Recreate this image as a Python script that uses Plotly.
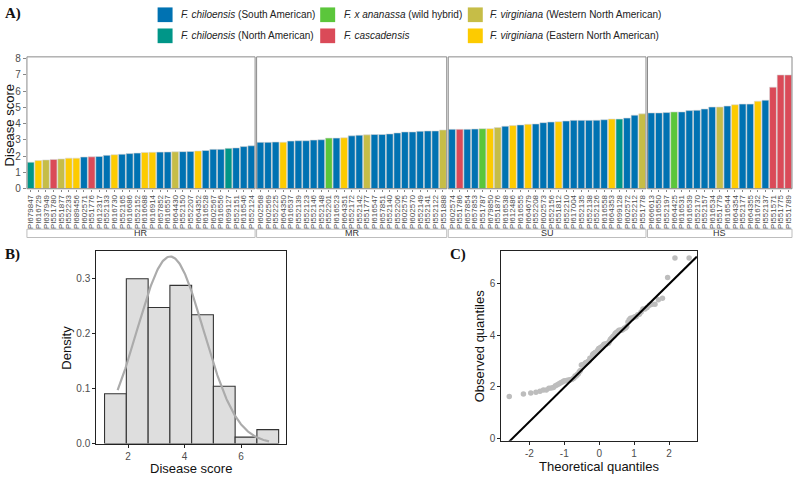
import plotly.graph_objects as go
import numpy as np
from statistics import NormalDist

W, H = 794, 478

# ---------------- DATA ----------------
hr_labels = ["PI679847", "PI616729", "PI637949", "PI551780", "PI551877", "PI552233", "PI689456",
             "PI602571", "PI551776", "PI612317", "PI552133", "PI616730", "PI552165", "PI616686",
             "PI552152", "PI616688", "PI616914", "PI657852", "PI616557", "PI664430", "PI552150",
             "PI552207", "PI664352", "PI616528", "PI602567", "PI616556", "PI699127", "PI552151",
             "PI616546", "PI552124"]
hr_scores = [1.63, 1.73, 1.77, 1.80, 1.83, 1.88, 1.88, 1.95, 1.96, 1.98, 2.05, 2.09, 2.12, 2.16,
             2.19, 2.23, 2.24, 2.25, 2.26, 2.27, 2.28, 2.29, 2.32, 2.35, 2.42, 2.42, 2.48, 2.51,
             2.59, 2.64]
hr_species = ["NA", "EV", "WV", "CA", "WV", "EV", "EV", "SA", "CA", "SA", "SA", "EV", "SA", "SA",
              "SA", "EV", "EV", "SA", "SA", "WV", "SA", "SA", "EV", "SA", "SA", "SA", "NA", "SA",
              "SA", "SA"]

mr_labels = ["PI602568", "PI602569", "PI552225", "PI664350", "PI616537", "PI552139", "PI552123",
             "PI552146", "PI552148", "PI552201", "PI616523", "PI664351", "PI552172", "PI552142",
             "PI551777", "PI616547", "PI657851", "PI552140", "PI552206", "PI602575", "PI602570",
             "PI552149", "PI552141", "PI552122", "PI551888"]
mr_scores = [2.85, 2.85, 2.87, 2.86, 2.93, 2.95, 2.95, 2.99, 3.01, 3.11, 3.11, 3.13, 3.25, 3.29,
             3.31, 3.33, 3.33, 3.37, 3.43, 3.49, 3.49, 3.53, 3.55, 3.55, 3.61]
mr_species = ["SA", "SA", "SA", "EV", "SA", "SA", "SA", "SA", "SA", "HY", "SA", "EV", "SA", "SA",
              "WV", "SA", "SA", "SA", "SA", "SA", "SA", "SA", "SA", "SA", "WV"]

su_labels = ["PI602574", "PI551786", "PI657854", "PI657853", "PI551787", "PI679850", "PI551876",
             "PI616538", "PI612486", "PI616555", "PI664679", "PI552208", "PI602573", "PI552156",
             "PI551812", "PI552210", "PI617004", "PI552135", "PI552138", "PI552126", "PI616558",
             "PI664353", "PI699128", "PI602572", "PI552212", "PI551778"]
su_scores = [3.65, 3.65, 3.65, 3.67, 3.69, 3.69, 3.76, 3.84, 3.88, 3.92, 3.96, 3.98, 4.06, 4.10,
             4.12, 4.16, 4.20, 4.20, 4.20, 4.21, 4.24, 4.28, 4.28, 4.34, 4.52, 4.60]
su_species = ["SA", "CA", "SA", "SA", "HY", "EV", "WV", "SA", "EV", "SA", "EV", "SA", "SA", "SA",
              "EV", "SA", "SA", "SA", "SA", "SA", "SA", "EV", "NA", "SA", "SA", "WV"]

hs_labels = ["PI666613", "PI616550", "PI552197", "PI664425", "PI616531", "PI616539", "PI552170",
             "PI552157", "PI616534", "PI551779", "PI616544", "PI664354", "PI552177", "PI664355",
             "PI616732", "PI552137", "PI551571", "PI551775", "PI551789"]
hs_scores = [4.66, 4.66, 4.68, 4.72, 4.72, 4.80, 4.82, 4.90, 5.02, 5.02, 5.08, 5.16, 5.20, 5.20,
             5.38, 5.44, 6.24, 6.99, 6.99]
hs_species = ["SA", "SA", "SA", "HY", "SA", "SA", "SA", "SA", "SA", "WV", "SA", "EV", "SA", "SA",
              "EV", "SA", "CA", "CA", "CA"]

group_names = ["HR", "MR", "SU", "HS"]

species_order = ["SA", "NA", "HY", "CA", "WV", "EV"]
species_text = {
    "SA": "<i>F. chiloensis</i> (South American)",
    "NA": "<i>F. chiloensis</i> (North American)",
    "HY": "<i>F. x ananassa</i> (wild hybrid)",
    "CA": "<i>F. cascadensis</i>",
    "WV": "<i>F. virginiana</i> (Western North American)",
    "EV": "<i>F. virginiana</i> (Eastern North American)",
}

# histogram
hist_edges = [1.166, 1.938, 2.710, 3.480, 4.250, 5.020, 5.790, 6.560, 7.330]
hist_density = [0.0905, 0.2988, 0.2467, 0.2870, 0.2337, 0.1040, 0.0118, 0.0254]

# ---------------- STYLES ----------------
species_color = {"SA": "#0072B2", "NA": "#009688", "HY": "#5BC63B", "CA": "#DA4A58",
                 "WV": "#C6BD47", "EV": "#FDCB00"}
FONT = "Liberation Sans, Arial, sans-serif"
SERIF = "Liberation Serif, Times New Roman, serif"
TICKC = "#4d4d4d"


def px(x):
    return x / W


def py(y):
    return 1 - y / H


def label(x, y, text, size=13, angle=0, xanchor="center", color="#111", family=FONT):
    return dict(x=px(x), y=py(y), xref="paper", yref="paper", text=text, textangle=angle,
                showarrow=False, xanchor=xanchor, yanchor="middle",
                font=dict(size=size, color=color, family=family))


fig = go.Figure()
shapes = []
ann = []

groups = [(hr_labels, hr_scores, hr_species), (mr_labels, mr_scores, mr_species),
          (su_labels, su_scores, su_species), (hs_labels, hs_scores, hs_species)]

# facet layout (pixel geometry)
left, right, gap = 26.0, 793.0, 1.5
total = sum(len(g[0]) for g in groups)
unit = (right - left - gap * (len(groups) - 1)) / total
A_top, A_bot = 54.0, 188.7
strip_top, strip_bot = 230.0, 238.5

x0 = left
for i, (labs, sc, sp) in enumerate(groups):
    n = len(labs)
    x1 = x0 + n * unit
    ax = "x" if i == 0 else f"x{i + 1}"
    key = "xaxis" if i == 0 else f"xaxis{i + 1}"
    fig.add_trace(go.Bar(
        x=labs, y=sc, xaxis=ax, yaxis="y",
        marker=dict(color=[species_color[s] for s in sp], line=dict(color="#d6d6d6", width=0.6)),
        showlegend=False, hoverinfo="x+y"))
    fig.layout[key] = dict(
        domain=[px(x0), px(x1)], anchor="y", type="category",
        range=[-0.5, n - 0.5], tickmode="array", tickvals=labs, ticktext=labs,
        tickangle=-90, tickfont=dict(size=8, color=TICKC, family=FONT),
        ticks="outside", ticklen=2, tickcolor="#888", showgrid=False,
        showline=False, zeroline=False, fixedrange=True)
    # panel frame
    shapes.append(dict(type="rect", xref="paper", yref="paper", x0=px(x0), x1=px(x1),
                       y0=py(A_bot), y1=py(A_top), line=dict(color="#8a8a8a", width=1),
                       layer="above"))
    # strip
    shapes.append(dict(type="rect", xref="paper", yref="paper", x0=px(x0), x1=px(x1),
                       y0=py(strip_bot), y1=py(strip_top), line=dict(color="#bdbdbd", width=1),
                       fillcolor="white"))
    ann.append(label((x0 + x1) / 2, (strip_top + strip_bot) / 2, group_names[i], size=9,
                     color="#333"))
    x0 = x1 + gap

fig.layout["yaxis"] = dict(domain=[py(A_bot), py(A_top)], range=[0, 8.1], anchor="x",
                           tickvals=list(range(0, 9)), ticks="outside", ticklen=3,
                           tickcolor="#888", tickfont=dict(size=10, color=TICKC, family=FONT),
                           showgrid=False, zeroline=False, showline=False, fixedrange=True)
ann.append(label(8, 124, "Disease score", angle=-90))

# legend (2 rows x 3 columns)
leg_cols = [(157, 178), (320, 342), (468, 488)]
leg_rows = [11, 32.5]
for k, s in enumerate(species_order):
    c, r = k // 2, k % 2
    sx, tx = leg_cols[c]
    yc = leg_rows[r]
    shapes.append(dict(type="rect", xref="paper", yref="paper", x0=px(sx), x1=px(sx + 15),
                       y0=py(yc + 7.5), y1=py(yc - 7.5), fillcolor=species_color[s],
                       line=dict(width=0)))
    ann.append(label(tx, yc, species_text[s], size=10, xanchor="left", color="#222"))

# ---------------- Panel B: histogram ----------------
B_l, B_r, B_t, B_b = 95.7, 285.7, 252.7, 449.0
edges = np.array(hist_edges)
centers = (edges[:-1] + edges[1:]) / 2
widths = np.diff(edges)
fig.add_trace(go.Bar(x=centers, y=hist_density, width=widths, xaxis="x5", yaxis="y5",
                     marker=dict(color="#dedede", line=dict(color="#333", width=1.1)),
                     showlegend=False))
scores = np.array(hr_scores + mr_scores + su_scores + hs_scores)
nd = NormalDist(float(np.mean(scores)), float(np.std(scores, ddof=1)))
cx = np.linspace(scores.min(), scores.max(), 200)
fig.add_trace(go.Scatter(x=cx, y=[nd.pdf(v) for v in cx], mode="lines", xaxis="x5", yaxis="y5",
                         line=dict(color="#ababab", width=2.2), showlegend=False))
axis_common = dict(ticks="outside", ticklen=3, tickcolor="#222", showline=True, mirror=True,
                   linecolor="#222", linewidth=1.4, showgrid=False, zeroline=False,
                   tickfont=dict(size=10, color=TICKC, family=FONT), fixedrange=True)
fig.layout["xaxis5"] = dict(domain=[px(B_l), px(B_r)], range=[0.88, 7.59], anchor="y5",
                            tickvals=[2, 4, 6], **axis_common)
fig.layout["yaxis5"] = dict(domain=[py(B_b), py(B_t)], range=[0, 0.3485], anchor="x5",
                            tickvals=[0, 0.1, 0.2, 0.3], tickformat=".1f", **axis_common)
ann.append(label(65.3, (B_t + B_b) / 2, "Density", angle=-90))
ann.append(label((B_l + B_r) / 2, 474, "Disease score"))

# ---------------- Panel C: QQ plot ----------------
C_l, C_r, C_t, C_b = 501.7, 697.7, 252.7, 446.0
obs = np.sort(scores)
n = len(obs)
theo = np.array([NormalDist().inv_cdf((i - 0.5) / n) for i in range(1, n + 1)])
fig.add_trace(go.Scatter(x=theo, y=obs, mode="markers", xaxis="x6", yaxis="y6",
                         marker=dict(color="#bdbdbd", size=5.5), showlegend=False))
q1, q3 = np.percentile(obs, [25, 75])
z1, z3 = NormalDist().inv_cdf(0.25), NormalDist().inv_cdf(0.75)
slope = (q3 - q1) / (z3 - z1)
icpt = q1 - slope * z1
lx = np.array([-2.8, 2.8])
fig.add_trace(go.Scatter(x=lx, y=icpt + slope * lx, mode="lines", xaxis="x6", yaxis="y6",
                         line=dict(color="black", width=2), showlegend=False))
fig.layout["xaxis6"] = dict(domain=[px(C_l), px(C_r)], range=[-2.8, 2.8], anchor="y6",
                            tickvals=[-2, -1, 0, 1, 2], ticktext=["-2", "-1", "0", "1", "2"],
                            **axis_common)
fig.layout["yaxis6"] = dict(domain=[py(C_b), py(C_t)], range=[-0.08, 7.25], anchor="x6",
                            tickvals=[0, 2, 4, 6], **axis_common)
ann.append(label(479.5, (C_t + C_b) / 2, "Observed quantiles", angle=-90))
ann.append(label((C_l + C_r) / 2, 472.5, "Theoretical quantiles"))

# panel letters
for t, xx, yy in [("A)", 2, 10), ("B)", 2, 256), ("C)", 448, 256)]:
    ann.append(label(xx, yy, f"<b>{t}</b>", size=15, xanchor="left", family=SERIF))

fig.update_layout(width=W, height=H, margin=dict(l=0, r=0, t=0, b=0),
                  paper_bgcolor="white", plot_bgcolor="white", bargap=0.1,
                  shapes=shapes, annotations=ann, showlegend=False,
                  font=dict(family=FONT))

fig.write_html("out.html")
